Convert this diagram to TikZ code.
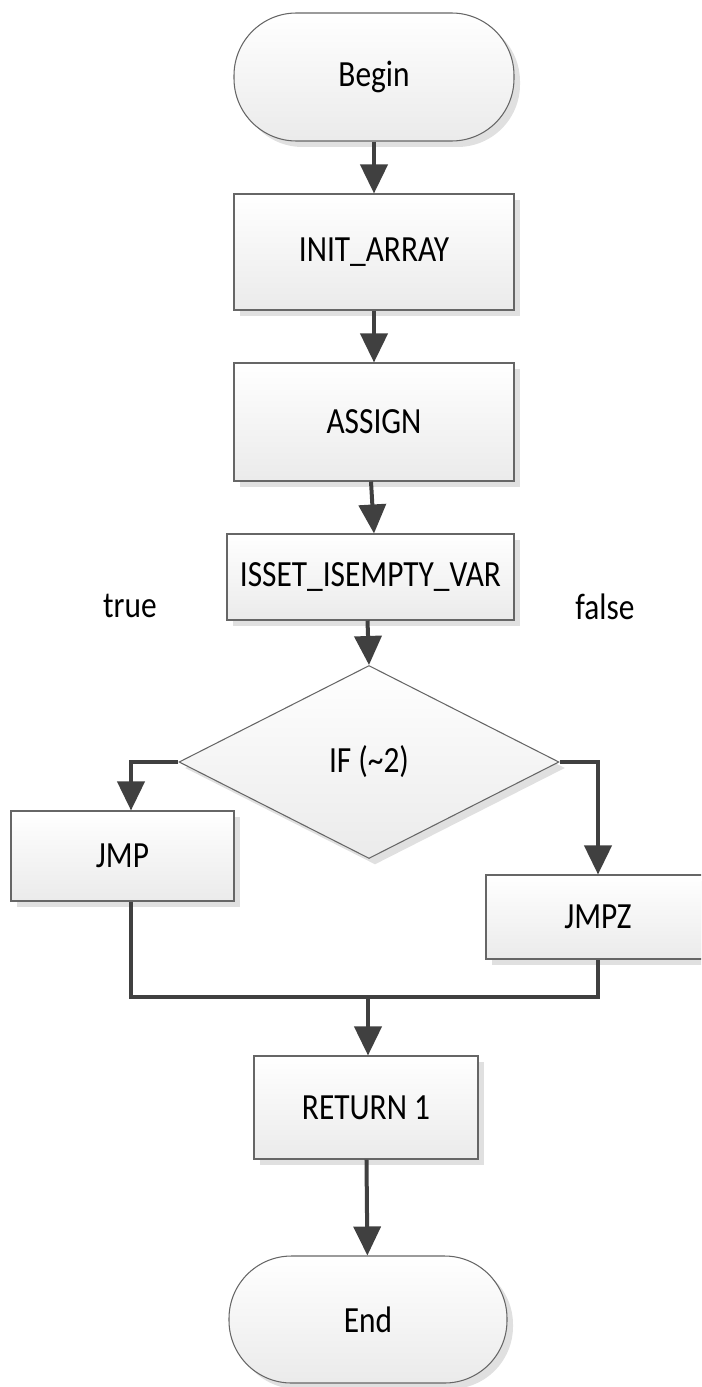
\documentclass[tikz,border=0pt]{standalone}
\usepackage{fontspec}
\setmainfont{Carlito}[FakeStretch=0.85]
\usetikzlibrary{shapes.geometric}
\usetikzlibrary{arrows.meta}
\usetikzlibrary{shadows}
\tikzstyle{every picture}+=[remember picture]
\tikzstyle{box}=[draw=black!60, line width=0.6pt, top color=white, bottom color=black!8, inner sep=0pt, font=\fontsize{21}{25}\selectfont, drop shadow={shadow xshift=0.12cm, shadow yshift=-0.12cm, fill=black!12, opacity=1}]
\tikzstyle{terminal}=[box, rounded corners=1.25cm]
\tikzstyle{decision}=[box, diamond, aspect=2]
\tikzstyle{flow}=[draw=black!75, line width=0.08cm]
\tikzstyle{flowarrow}=[flow, -{Triangle[length=0.58cm,width=0.54cm]}]

\begin{document}
\begin{tikzpicture}
	\path[use as bounding box, clip] (0,0) rectangle (14.02,-27.74);
	% define nodes
	\node[terminal, minimum width=5.6cm, minimum height=2.56cm] (begin) at (7.48,-1.54) {Begin};
	\node[box, minimum width=5.6cm, minimum height=2.32cm] (init) at (7.48,-5.04) {INIT\_ARRAY};
	\node[box, minimum width=5.6cm, minimum height=2.36cm] (assign) at (7.48,-8.44) {ASSIGN};
	\node[box, minimum width=5.74cm, minimum height=1.72cm] (isset) at (7.41,-11.54) {ISSET\_ISEMPTY\_VAR};
	\node[decision, minimum width=7.6cm, minimum height=3.86cm] (if) at (7.38,-15.24) {IF (\textasciitilde2)};
	\node[box, minimum width=4.46cm, minimum height=1.8cm] (jmp) at (2.45,-17.12) {JMP};
	\node[box, minimum width=4.48cm, minimum height=1.68cm] (jmpz) at (11.96,-18.34) {JMPZ};
	\node[box, minimum width=4.48cm, minimum height=2.06cm] (ret) at (7.32,-22.15) {RETURN 1};
	\node[terminal, minimum width=5.56cm, minimum height=2.54cm] (end) at (7.36,-26.39) {End};
	\coordinate (merge) at (7.36,-19.94);
	% labels
	\node[font=\fontsize{21}{25}\selectfont] (true) at (2.6,-12.12) {true};
	\node[font=\fontsize{21}{25}\selectfont] (false) at (12.1,-12.14) {false};
	% arrows
	\draw[flowarrow] (begin) -- (init);
	\draw[flowarrow] (init) -- (assign);
	\draw[flowarrow] ([xshift=-0.06cm]assign.south) -- ([xshift=0.07cm]isset.north);
	\draw[flowarrow] ([xshift=-0.06cm]isset.south) -- (if.north);
	\draw[flowarrow] (if.west) -| ([xshift=0.17cm]jmp.north);
	\draw[flowarrow] (if.east) -| (jmpz.north);
	\draw[flow] ([xshift=0.17cm]jmp.south) |- (merge) -| (jmpz.south);
	\draw[flowarrow] (merge) -- (merge |- ret.north);
	\draw[flowarrow] (ret) -- (end);
\end{tikzpicture}
\end{document}
